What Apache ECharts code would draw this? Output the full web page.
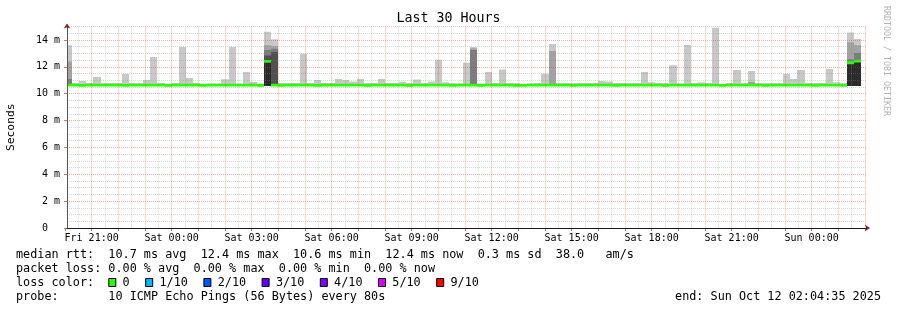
<!DOCTYPE html>
<html><head><meta charset="utf-8">
<script src="https://cdn.jsdelivr.net/npm/echarts@6/dist/echarts.min.js"></script>
<style>html,body{margin:0;padding:0;background:#fff}#c{width:897px;height:310px}</style>
</head><body><div id="c"></div>
<script>
// ---------------- data ----------------
// time in hours since Fri 00:00
const viewStartHour = 20 + 4/60 + 35/3600;   // Fri 20:04:35
const viewHours = 30;
const firstBinHour = 20;                      // first 16-minute bin starts Fri 20:00
const binMinutes = 16;
const yMax = 15, yMajorTop = 14;

// top of the smoke (slowest ping) per bin, ms
const pingMax = [
13.6,10.8,10.95,10.8,11.24,10.8,10.8,10.8,11.47,10.8,
10.8,11.02,12.73,10.8,10.75,10.8,13.48,11.17,10.8,10.75,
10.75,10.75,11.07,13.48,10.75,11.62,10.87,10.75,14.6,14.05,
10.8,10.8,10.8,12.98,10.8,11.02,10.8,10.8,11.1,11.02,
10.9,11.1,10.8,10.8,11.1,10.8,10.8,10.88,10.8,11.05,
10.8,10.9,12.53,10.85,10.8,10.75,12.3,13.48,10.75,11.62,
10.8,11.79,10.8,10.8,10.7,10.75,10.8,11.49,13.7,10.8,
10.8,10.8,10.8,10.8,10.8,10.95,10.9,10.8,10.8,10.8,
10.8,11.62,10.85,10.8,10.8,12.11,10.75,13.63,10.8,10.85,
10.8,14.9,10.65,10.8,11.76,10.8,11.69,10.8,10.8,10.8,
10.8,11.47,11.1,11.76,10.8,10.8,10.8,11.84,10.85,10.8,
14.55,14.07];
// bottom of the smoke (fastest ping) per bin, ms
const pingMin = [
10.57,10.57,10.56,10.57,10.57,10.57,10.57,10.58,10.57,10.57,
10.57,10.57,10.57,10.57,10.56,10.57,10.57,10.57,10.57,10.57,
10.57,10.57,10.57,10.57,10.57,10.57,10.57,10.56,10.57,10.58,
10.57,10.57,10.57,10.57,10.57,10.57,10.56,10.57,10.57,10.57,
10.57,10.57,10.57,10.57,10.57,10.57,10.57,10.57,10.56,10.57,
10.57,10.57,10.57,10.57,10.57,10.57,10.57,10.57,10.57,10.57,
10.57,10.57,10.57,10.56,10.56,10.57,10.57,10.57,10.57,10.57,
10.57,10.57,10.57,10.57,10.57,10.57,10.57,10.57,10.57,10.57,
10.57,10.57,10.57,10.57,10.56,10.57,10.57,10.57,10.57,10.57,
10.57,10.57,10.56,10.57,10.57,10.57,10.57,10.57,10.57,10.57,
10.57,10.57,10.57,10.57,10.57,10.57,10.57,10.57,10.57,10.57,
10.57,10.58];
// median rtt per bin, ms
const medianRtt = [
10.64,10.63,10.62,10.63,10.63,10.64,10.63,10.63,10.62,10.63,
10.63,10.63,10.64,10.63,10.62,10.63,10.63,10.63,10.63,10.62,
10.63,10.63,10.63,10.64,10.63,10.63,10.63,10.62,12.40,10.63,
10.62,10.63,10.63,10.63,10.63,10.62,10.63,10.63,10.63,10.63,
10.63,10.63,10.62,10.63,10.63,10.63,10.63,10.63,10.62,10.63,
10.63,10.63,10.63,10.63,10.62,10.63,10.63,10.63,10.62,10.63,
10.63,10.63,10.63,10.62,10.62,10.63,10.63,10.63,10.63,10.63,
10.63,10.62,10.63,10.63,10.63,10.63,10.63,10.62,10.63,10.63,
10.63,10.63,10.63,10.63,10.62,10.63,10.63,10.63,10.63,10.63,
10.63,10.63,10.62,10.63,10.63,10.63,10.63,10.63,10.62,10.63,
10.63,10.63,10.63,10.63,10.63,10.62,10.63,10.63,10.63,10.62,
12.30,12.42];
// inner (denser) smoke bands, by bin index: top of each band, ms
const band2Top = {0:12.4, 28:13.6, 29:13.55, 57:13.38, 68:13.18, 96:10.87, 110:13.83, 111:13.6};
const band3Top = {0:11.1, 28:13.25, 29:13.35, 57:13.25, 110:12.56, 111:13.03};
const band4Top = {28:12.85, 29:13.1};
const darkTop  = {28:12.4, 110:12.3, 111:12.4};

const xTickHours  = [21,24,27,30,33,36,39,42,45,48];
const xTickLabels = ['Fri 21:00','Sat 00:00','Sat 03:00','Sat 06:00','Sat 09:00','Sat 12:00','Sat 15:00','Sat 18:00','Sat 21:00','Sun 00:00'];
const yTickValues = [0,2,4,6,8,10,12,14];
const yTickLabels = ['0  ','2 m','4 m','6 m','8 m','10 m','12 m','14 m'];

const lossColors = ['#26ff00','#00b8ff','#0059ff','#5e00ff','#7e00ff','#dd00ff','#ff0000'];
const lossLabels = ['0','1/10','2/10','3/10','4/10','5/10','9/10'];
const legendLines = [
  'median rtt:  10.7 ms avg  12.4 ms max  10.6 ms min  12.4 ms now  0.3 ms sd  38.0   am/s',
  'packet loss: 0.00 % avg  0.00 % max  0.00 % min  0.00 % now',
  'loss color:',
  'probe:       10 ICMP Echo Pings (56 Bytes) every 80s'
];
const endText = 'end: Sun Oct 12 02:04:35 2025';
const titleText = 'Last 30 Hours';

// ---------------- chart ----------------
const MONO = 'DejaVu Sans Mono';
const smokeColors = ['#c8c8c8','#a2a2a2','#7c7c7c','#505050','#2b2b2b'];
const gridGray = 'rgba(140,140,140,0.34)';
const gridRed = 'rgba(235,45,45,0.40)';

const plotLeft = 67, plotTop = 26.5, plotW = 800, plotH = 201.5;
const pxPerHour = plotW / viewHours;
const pxPerMs = plotH / yMax;
const hourGridLeft = plotLeft - (viewStartHour - firstBinHour) * pxPerHour;

const bins = pingMax.map((v, k) => {
  const t0 = firstBinHour + k * binMinutes / 60;
  return [t0, t0 + binMinutes / 60, k];
});

function renderItem(params, api) {
  const t0 = api.value(0), t1 = api.value(1), k = api.value(2);
  const kids = [];
  const rect = (lo, hi, fill) => {
    const a = api.coord([t0, hi]), b = api.coord([t1, lo]);
    const x0 = Math.round(a[0]), x1 = Math.round(b[0]);
    kids.push({type: 'rect', shape: {x: x0, y: a[1], width: x1 - x0, height: b[1] - a[1]}, style: {fill: fill}});
  };
  rect(pingMin[k], pingMax[k], smokeColors[0]);
  if (band2Top[k] != null) rect(pingMin[k], band2Top[k], smokeColors[1]);
  if (band3Top[k] != null) rect(pingMin[k], band3Top[k], smokeColors[2]);
  if (band4Top[k] != null) rect(pingMin[k], band4Top[k], smokeColors[3]);
  if (darkTop[k] != null) rect(pingMin[k], darkTop[k], smokeColors[4]);
  rect(medianRtt[k] - 0.105, medianRtt[k] + 0.105, lossColors[0]);
  return {type: 'group', children: kids};
}

// legend graphics
const charW = 7.1, fs = 11.8;
const lineMid = [254.6, 268.6, 282.6, 296.6];
const graphics = [];
graphics.push({type: 'text', x: 448.5, y: 19, style: {text: titleText, font: '13.3px ' + MONO, fill: '#000', align: 'center', verticalAlign: 'middle'}});
graphics.push({type: 'text', x: 886, y: 61, rotation: -Math.PI / 2, style: {text: 'RRDTOOL / TOBI OETIKER', font: '8.3px ' + MONO, fill: '#b4b4b4', align: 'center', verticalAlign: 'middle'}});
legendLines.forEach((t, i) => {
  graphics.push({type: 'text', x: 16, y: lineMid[i], style: {text: t, font: fs + 'px ' + MONO, fill: '#000', align: 'left', verticalAlign: 'middle'}});
});
let sx = 16 + 13 * charW;
lossLabels.forEach((lab, i) => {
  graphics.push({type: 'rect', shape: {x: sx + 0.5, y: 278.5, width: 7, height: 8}, style: {fill: lossColors[i], stroke: '#000', lineWidth: 1}});
  const lx = sx + 14.3;
  graphics.push({type: 'text', x: lx, y: lineMid[2], style: {text: lab, font: fs + 'px ' + MONO, fill: '#000', align: 'left', verticalAlign: 'middle'}});
  sx = lx + lab.length * charW + 15.5;
});
graphics.push({type: 'text', x: 881, y: lineMid[3], style: {text: endText, font: fs + 'px ' + MONO, fill: '#000', align: 'right', verticalAlign: 'middle'}});

const hidden = (g) => ({gridIndex: g, type: 'value', show: false, min: 0, max: 1});

const chart = echarts.init(document.getElementById('c'), null, {renderer: 'canvas'});
chart.setOption({
  animation: false,
  backgroundColor: '#fff',
  grid: [
    // 0: data plot
    {left: plotLeft, top: plotTop, width: plotW, height: plotH, containLabel: false, outerBoundsMode: 'none'},
    // 1: clock-hour grid (starts at the whole hour before the view start)
    {left: hourGridLeft, top: plotTop, width: plotW, height: plotH, containLabel: false, outerBoundsMode: 'none'},
    // 2: major y grid, 0 .. 14 ms
    {left: plotLeft, top: plotTop + (yMax - yMajorTop) * pxPerMs, width: plotW, height: yMajorTop * pxPerMs, containLabel: false, outerBoundsMode: 'none'},
    // 3: minor y grid above the last major line, 14 .. 15 ms
    {left: plotLeft, top: plotTop, width: plotW, height: (yMax - yMajorTop) * pxPerMs, containLabel: false, outerBoundsMode: 'none'}
  ],
  xAxis: [
    {gridIndex: 0, type: 'value', position: 'bottom', min: viewStartHour, max: viewStartHour + viewHours, z: 4,
     axisLine: {show: true, lineStyle: {color: '#1a1a1a', width: 1}}, axisTick: {show: false}, axisLabel: {show: false}, splitLine: {show: false}},
    {gridIndex: 1, type: 'value', position: 'bottom', min: firstBinHour, max: firstBinHour + viewHours, interval: 1, z: 3,
     axisLine: {show: false},
     axisTick: {show: true, length: 3, lineStyle: {color: '#e07070'}},
     axisLabel: {show: true, margin: 5, fontFamily: MONO, fontSize: 10, color: '#000',
       formatter: v => { const i = xTickHours.indexOf(Math.round(v)); return (i >= 0 && Math.abs(v - Math.round(v)) < 1e-6) ? xTickLabels[i] : ''; }},
     splitLine: {show: true, showMinLine: false, lineStyle: {color: gridRed, type: [1, 1]}},
     minorTick: {show: false, splitNumber: 2},
     minorSplitLine: {show: true, lineStyle: {color: gridGray, type: [1, 1]}}},
    {gridIndex: 0, type: 'value', position: 'bottom', min: viewStartHour, max: viewStartHour + viewHours, z: 5,
     axisLine: {show: true, symbol: ['none', 'arrow'], symbolSize: [5, 5], symbolOffset: [0, 3], lineStyle: {color: '#8b1a1a', width: 0}},
     axisTick: {show: false}, axisLabel: {show: false}, splitLine: {show: false}},
    hidden(2),
    hidden(3)
  ],
  yAxis: [
    {gridIndex: 0, type: 'value', position: 'left', min: 0, max: yMax, z: 4,
     name: 'Seconds', nameLocation: 'middle', nameGap: 50, nameRotate: 90, nameMoveOverlap: false,
     nameTextStyle: {fontFamily: MONO, fontSize: 11.3, color: '#000'},
     axisLine: {show: true, lineStyle: {color: '#555', width: 1}}, axisTick: {show: false}, axisLabel: {show: false},
     splitLine: {show: false}},
    {gridIndex: 2, type: 'value', position: 'left', min: 0, max: yMajorTop, interval: 2, z: 3,
     axisLine: {show: false},
     axisTick: {show: true, length: 3, lineStyle: {color: '#e07070'}},
     axisLabel: {show: true, margin: 7, fontFamily: MONO, fontSize: 10, color: '#000',
       formatter: v => { const i = yTickValues.indexOf(v); return i >= 0 ? yTickLabels[i] : ''; }},
     splitLine: {show: true, showMinLine: false, lineStyle: {color: gridRed, type: [1, 1]}},
     minorTick: {show: false, splitNumber: 4},
     minorSplitLine: {show: true, lineStyle: {color: gridGray, type: [1, 1]}}},
    {gridIndex: 1, type: 'value', show: false, min: 0, max: yMax},
    {gridIndex: 0, type: 'value', position: 'left', min: 0, max: yMax, z: 5,
     axisLine: {show: true, symbol: ['none', 'arrow'], symbolSize: [5, 5], symbolOffset: [0, 3], lineStyle: {color: '#8b1a1a', width: 0}},
     axisTick: {show: false}, axisLabel: {show: false}, splitLine: {show: false}},
    {gridIndex: 3, type: 'value', position: 'left', min: yMajorTop, max: yMax, interval: 0.5, z: 3,
     axisLine: {show: false}, axisTick: {show: false}, axisLabel: {show: false},
     splitLine: {show: true, showMinLine: false, lineStyle: {color: gridGray, type: [1, 1]}}}
  ],
  series: [{
    type: 'custom', xAxisIndex: 0, yAxisIndex: 0, z: 1, clip: true,
    renderItem: renderItem, data: bins, encode: {x: [0, 1]}
  }],
  graphic: graphics
});
</script></body></html>
